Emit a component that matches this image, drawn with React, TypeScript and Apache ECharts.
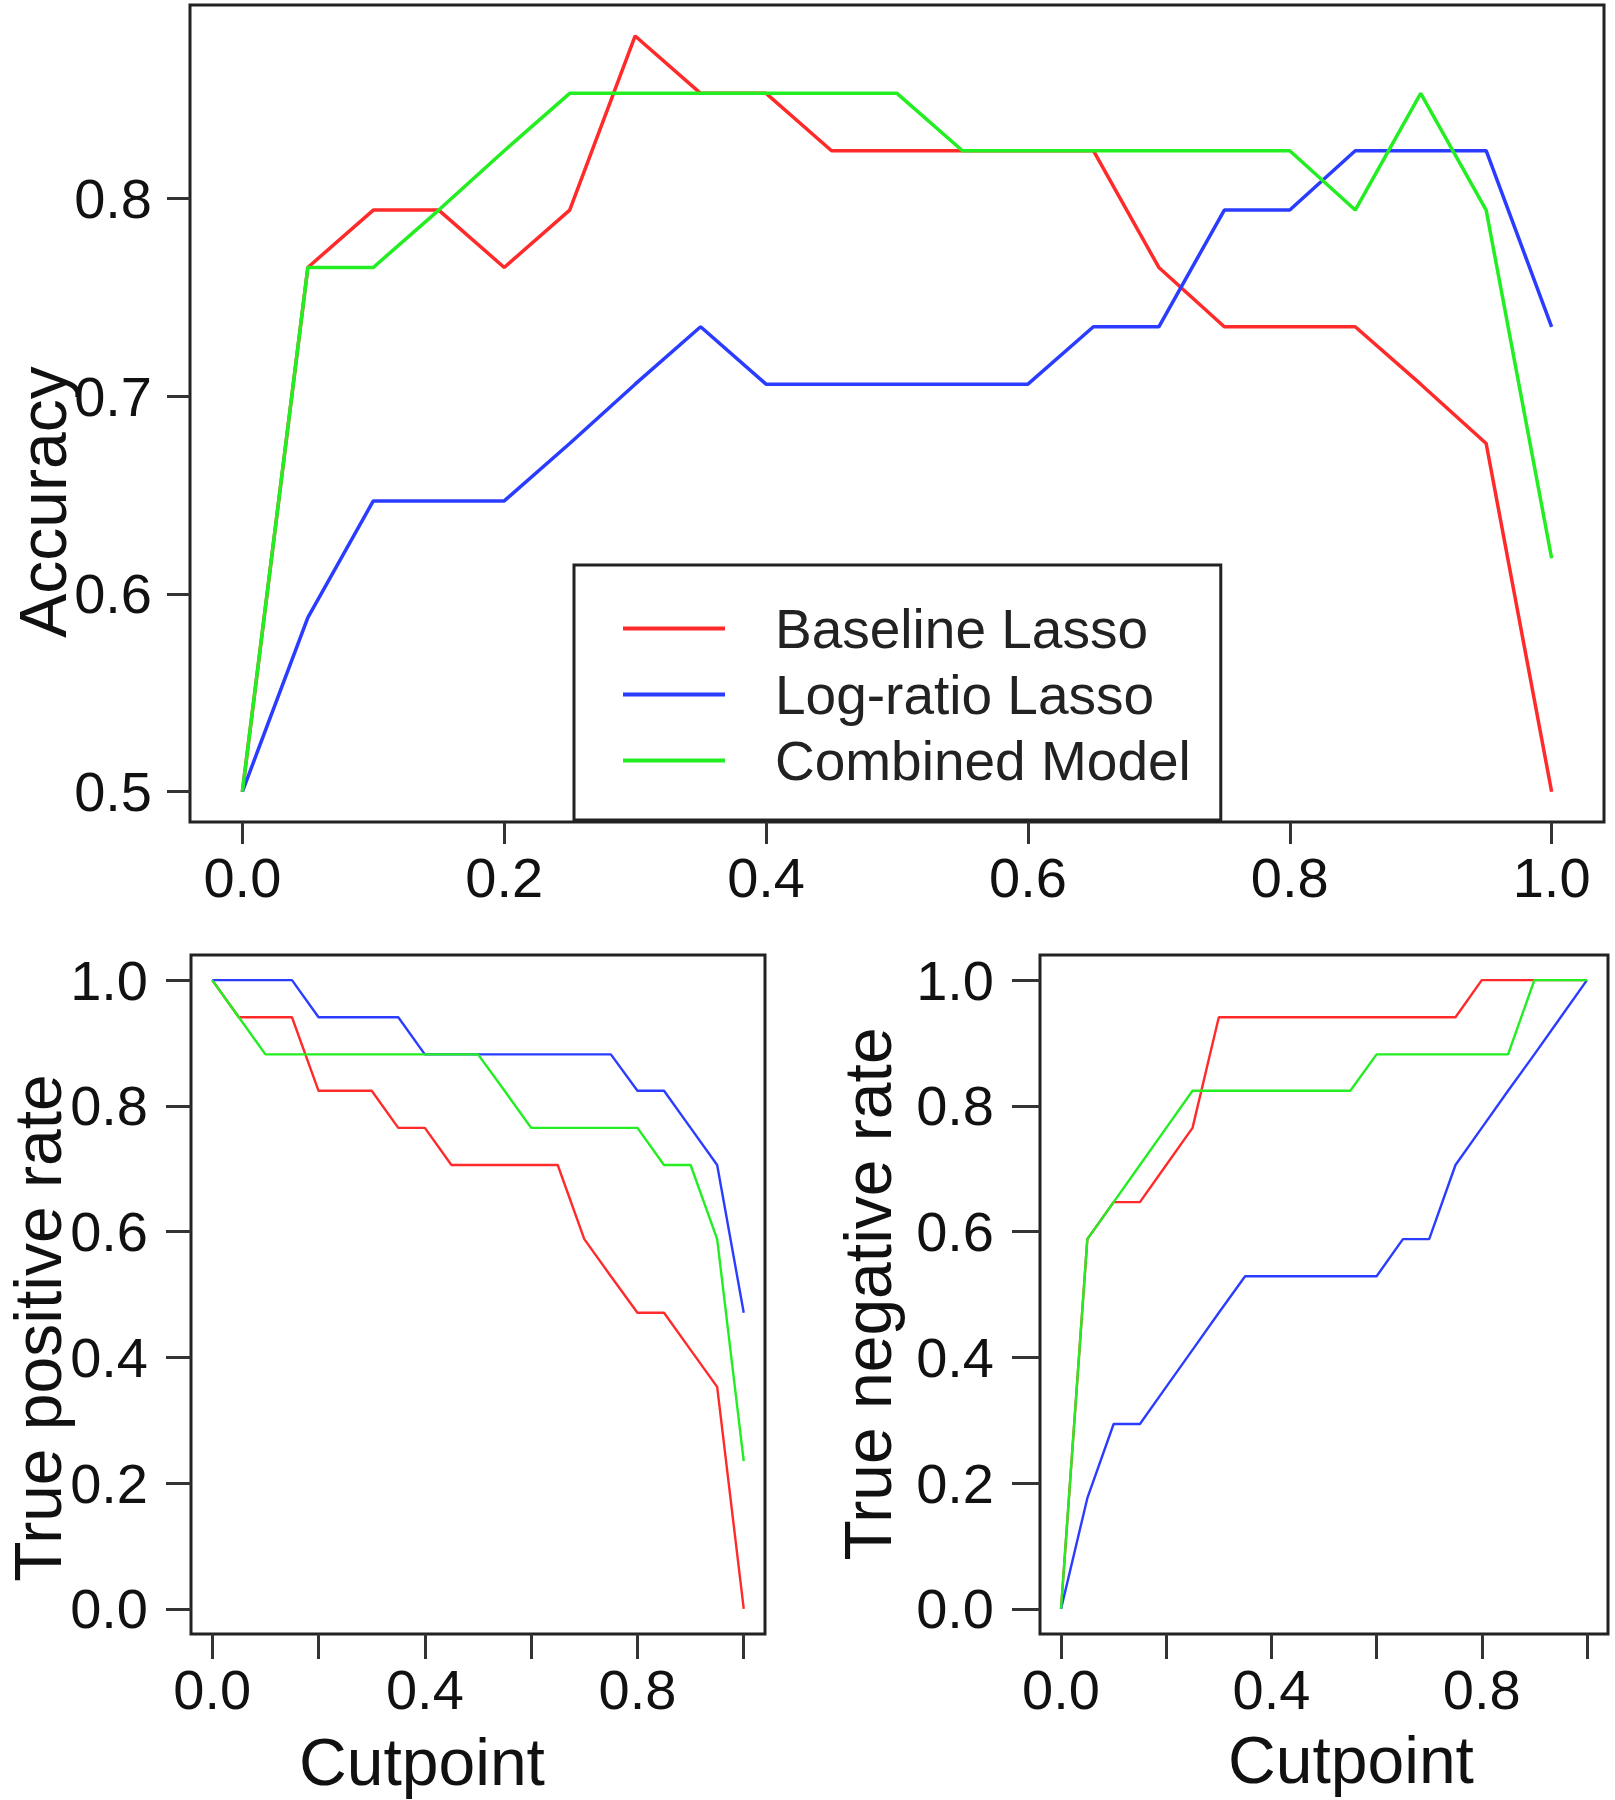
import React, { useEffect, useRef } from "react";
import * as echarts from "echarts";

// ---- data ----
const cutpoints = [0.0, 0.05, 0.1, 0.15, 0.2, 0.25, 0.3, 0.35, 0.4, 0.45, 0.5, 0.55, 0.6, 0.65, 0.7, 0.75, 0.8, 0.85, 0.9, 0.95, 1.0];

const accBaseline = [0.5, 0.765, 0.794, 0.794, 0.765, 0.794, 0.882, 0.853, 0.853, 0.824, 0.824, 0.824, 0.824, 0.824, 0.765, 0.735, 0.735, 0.735, 0.706, 0.676, 0.5];
const accLogratio = [0.5, 0.588, 0.647, 0.647, 0.647, 0.676, 0.706, 0.735, 0.706, 0.706, 0.706, 0.706, 0.706, 0.735, 0.735, 0.794, 0.794, 0.824, 0.824, 0.824, 0.735];
const accCombined = [0.5, 0.765, 0.765, 0.794, 0.824, 0.853, 0.853, 0.853, 0.853, 0.853, 0.853, 0.824, 0.824, 0.824, 0.824, 0.824, 0.824, 0.794, 0.853, 0.794, 0.618];

const tprBaseline = [1.0, 0.941, 0.941, 0.941, 0.824, 0.824, 0.824, 0.765, 0.765, 0.706, 0.706, 0.706, 0.706, 0.706, 0.588, 0.529, 0.471, 0.471, 0.412, 0.353, 0.0];
const tprLogratio = [1.0, 1.0, 1.0, 1.0, 0.941, 0.941, 0.941, 0.941, 0.882, 0.882, 0.882, 0.882, 0.882, 0.882, 0.882, 0.882, 0.824, 0.824, 0.765, 0.706, 0.471];
const tprCombined = [1.0, 0.941, 0.882, 0.882, 0.882, 0.882, 0.882, 0.882, 0.882, 0.882, 0.882, 0.824, 0.765, 0.765, 0.765, 0.765, 0.765, 0.706, 0.706, 0.588, 0.235];

const tnrBaseline = [0.0, 0.588, 0.647, 0.647, 0.706, 0.765, 0.941, 0.941, 0.941, 0.941, 0.941, 0.941, 0.941, 0.941, 0.941, 0.941, 1.0, 1.0, 1.0, 1.0, 1.0];
const tnrLogratio = [0.0, 0.176, 0.294, 0.294, 0.353, 0.412, 0.471, 0.529, 0.529, 0.529, 0.529, 0.529, 0.529, 0.588, 0.588, 0.706, 0.765, 0.824, 0.882, 0.941, 1.0];
const tnrCombined = [0.0, 0.588, 0.647, 0.706, 0.765, 0.824, 0.824, 0.824, 0.824, 0.824, 0.824, 0.824, 0.882, 0.882, 0.882, 0.882, 0.882, 0.882, 1.0, 1.0, 1.0];

const seriesNames = ["Baseline Lasso", "Log-ratio Lasso", "Combined Model"];
const seriesColors = ["#ff2a2a", "#2a3cff", "#22ee22"];

const accTicksX = [0.0, 0.2, 0.4, 0.6, 0.8, 1.0];
const accTicksY = [0.5, 0.6, 0.7, 0.8];
const rateTicks = [0.0, 0.2, 0.4, 0.6, 0.8, 1.0];
const rateLabelsX = [0.0, 0.4, 0.8];

const accTitle = "Accuracy";
const tprTitle = "True positive rate";
const tnrTitle = "True negative rate";
const xTitle = "Cutpoint";

const FONT = "'Liberation Sans', Arial, Helvetica, sans-serif";

function pairs(xs: number[], ys: number[]) {
  return xs.map((x, i) => [x, ys[i]]);
}

function axisCfg(
  gridIndex: number,
  min: number,
  max: number,
  tickVals: number[],
  labelVals: number[],
  tickLen: number,
  margin: number
) {
  return {
    type: "value",
    gridIndex,
    min,
    max,
    splitLine: { show: false },
    axisLine: { show: false, onZero: false },
    axisTick: {
      show: true,
      inside: false,
      length: tickLen,
      customValues: tickVals,
      lineStyle: { color: "#333", width: 3 },
    },
    axisLabel: {
      show: true,
      customValues: labelVals,
      margin,
      fontSize: 56,
      color: "#111",
      fontFamily: FONT,
      formatter: (v: number) => v.toFixed(1),
    },
  };
}

function titleText(text: string, x: number, y: number, rotated: boolean) {
  return {
    type: "text",
    x,
    y,
    rotation: rotated ? Math.PI / 2 : 0,
    silent: true,
    style: {
      text,
      fill: "#111",
      fontSize: 66,
      fontFamily: FONT,
      textAlign: "center",
      align: "center",
      textVerticalAlign: "middle",
      verticalAlign: "middle",
    },
  };
}

export default function App() {
  const ref = useRef<HTMLDivElement>(null);
  useEffect(() => {
    document.body.style.margin = "0";
    const chart = echarts.init(ref.current as HTMLDivElement, null, { renderer: "svg" });

    const accData = [accBaseline, accLogratio, accCombined];
    const tprData = [tprBaseline, tprLogratio, tprCombined];
    const tnrData = [tnrBaseline, tnrLogratio, tnrCombined];

    const series: any[] = [];
    const addSeries = (sets: number[][], gi: number, width: number) => {
      sets.forEach((ys, i) => {
        series.push({
          type: "line",
          name: seriesNames[i],
          xAxisIndex: gi,
          yAxisIndex: gi,
          data: pairs(cutpoints, ys),
          showSymbol: false,
          symbol: "none",
          color: seriesColors[i],
          lineStyle: { color: seriesColors[i], width },
          itemStyle: { color: seriesColors[i] },
          z: 2 + i,
        });
      });
    };
    addSeries(accData, 0, 3.5);
    addSeries(tprData, 1, 2.4);
    addSeries(tnrData, 2, 2.4);

    const gridStyle = { show: true, borderColor: "#222", borderWidth: 3, backgroundColor: "transparent" };

    chart.setOption({
      animation: false,
      backgroundColor: "#fff",
      textStyle: { fontFamily: FONT },
      grid: [
        { left: 190, top: 5, width: 1414, height: 817, ...gridStyle },
        { left: 191, top: 955, width: 574, height: 679, ...gridStyle },
        { left: 1040, top: 955, width: 568, height: 679, ...gridStyle },
      ],
      xAxis: [
        axisCfg(0, -0.04, 1.04, accTicksX, accTicksX, 22, 27),
        axisCfg(1, -0.04, 1.04, rateTicks, rateLabelsX, 25, 27),
        axisCfg(2, -0.04, 1.04, rateTicks, rateLabelsX, 25, 27),
      ],
      yAxis: [
        axisCfg(0, 0.48471, 0.89765, accTicksY, accTicksY, 23, 38),
        axisCfg(1, -0.04, 1.04, rateTicks, rateTicks, 25, 43),
        axisCfg(2, -0.04, 1.04, rateTicks, rateTicks, 28, 46),
      ],
      legend: {
        show: true,
        orient: "vertical",
        left: 574,
        top: 565,
        data: seriesNames,
        icon: "rect",
        itemWidth: 102,
        itemHeight: 4,
        itemGap: 11,
        padding: [36, 30, 32, 49],
        borderColor: "#222",
        borderWidth: 3,
        borderRadius: 0,
        backgroundColor: "#fff",
        selectedMode: false,
        textStyle: { fontSize: 55, color: "#222", fontFamily: FONT, lineHeight: 55, padding: [0, 0, 0, 45] },
      },
      graphic: [
        titleText(accTitle, 43, 502, true),
        titleText(tprTitle, 38, 1328, true),
        titleText(tnrTitle, 868, 1294, true),
        titleText(xTitle, 422, 1762, false),
        titleText(xTitle, 1351, 1760, false),
      ],
      series,
    });

    return () => chart.dispose();
  }, []);
  return <div ref={ref} style={{ width: 1615, height: 1800 }} />;
}
